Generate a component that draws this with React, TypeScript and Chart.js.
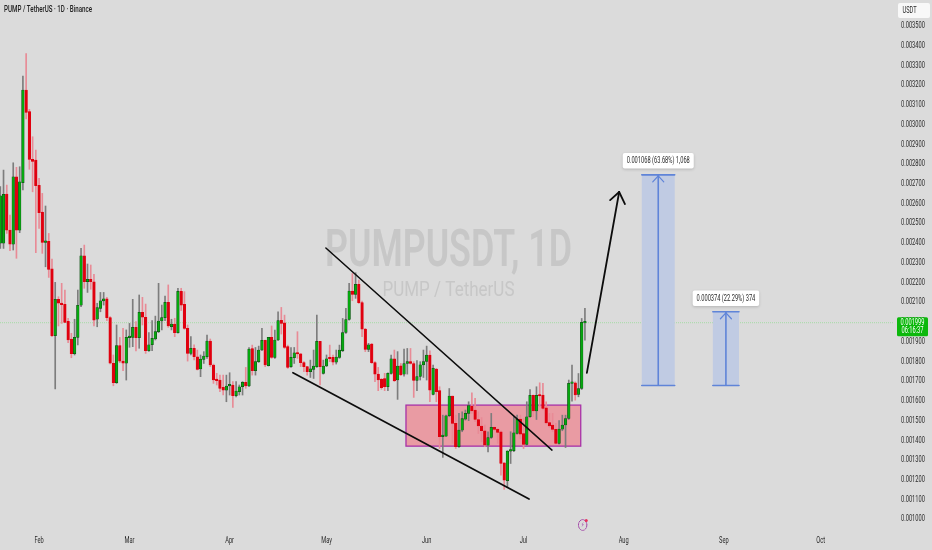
import React, { useEffect, useRef } from "react";
import { Chart, registerables } from "chart.js";

Chart.register(...registerables);

const opens = [2399,2399,2649,2466,2395,2736,2466,2706,3176,3066,2824,2821,2693,2557,2404,2409,2269,1931,2115,2096,2090,2003,1914,1840,1922,2085,2335,2204,2216,2204,2014,2069,2107,2118,2022,1791,1693,1880,1802,1791,1921,1922,1973,1921,2049,2024,1855,1885,1914,1951,2005,2022,2100,1976,1990,1946,2155,2090,1968,1841,1867,1824,1762,1811,1824,1904,1782,1706,1706,1669,1655,1676,1681,1627,1647,1672,1694,1676,1866,1753,1799,1858,1907,1779,1922,1821,1909,2008,1996,1875,1774,1819,1844,1839,1795,1774,1748,1760,1774,1902,1740,1777,1819,1821,1797,1821,1855,1947,2013,2157,2140,2191,2098,1964,1861,1888,1794,1736,1709,1714,1672,1740,1814,1706,1778,1736,1790,1799,1790,1704,1724,1783,1800,1832,1633,1761,1652,1419,1422,1525,1625,1486,1368,1452,1508,1537,1574,1554,1506,1473,1449,1376,1415,1466,1456,1444,1287,1196,1346,1348,1435,1508,1435,1380,1520,1628,1550,1630,1630,1565,1491,1478,1456,1385,1457,1478,1511,1689,1692,1633,1663,1996];
const highs = [2686,2770,2694,2542,2807,2784,2787,3247,3361,3078,2939,2872,2728,2652,2588,2449,2319,2201,2128,2196,2162,2019,1943,2014,2162,2373,2390,2294,2289,2242,2095,2150,2150,2125,2027,1833,1985,1922,1968,1960,1993,2115,2002,2137,2125,2091,1946,2007,2030,2196,2086,2132,2188,2014,2019,2171,2171,2154,1985,1926,1884,1858,1833,1850,1934,1914,1787,1740,1731,1731,1731,1743,1698,1698,1681,1698,1770,1871,1883,1871,1878,1968,1909,1922,1980,1959,2052,2074,2035,1883,1871,1871,1951,1841,1799,1774,1807,1858,2035,1902,1807,1833,1883,1833,1858,1883,2018,2069,2196,2246,2250,2213,2106,1968,1892,1892,1799,1770,1714,1740,1743,1833,1858,1850,1790,1863,1866,1866,1799,1804,1799,1858,1878,1854,1782,1765,1672,1528,1528,1663,1625,1528,1537,1545,1554,1596,1641,1613,1545,1516,1478,1444,1537,1469,1461,1449,1287,1348,1444,1520,1528,1528,1511,1596,1658,1630,1672,1692,1689,1596,1537,1537,1486,1500,1528,1528,1706,1782,1697,1739,2018,2069];
const lows = [2373,2373,2449,2362,2365,2323,2453,2669,3029,2774,2660,2351,2475,2348,2280,2226,1926,1661,1980,1993,1997,1895,1819,1833,1884,2078,2171,2150,2166,1980,1976,2052,2086,2007,1788,1677,1689,1794,1753,1706,1872,1875,1853,1867,1985,1841,1851,1855,1909,1946,1960,2007,1973,1960,1926,1943,2058,1963,1802,1833,1808,1757,1723,1790,1816,1774,1689,1681,1647,1630,1596,1630,1567,1621,1630,1630,1664,1672,1731,1731,1795,1855,1774,1777,1816,1816,1905,1939,1866,1765,1770,1790,1816,1774,1748,1731,1719,1714,1770,1681,1736,1774,1799,1782,1787,1816,1850,1942,2010,2108,2120,2094,1926,1850,1850,1790,1698,1652,1659,1652,1652,1736,1698,1608,1728,1726,1736,1787,1618,1652,1706,1719,1706,1596,1630,1596,1359,1314,1419,1520,1385,1359,1364,1444,1503,1500,1537,1495,1435,1393,1368,1342,1410,1449,1385,1224,1152,1162,1283,1343,1432,1410,1359,1376,1516,1520,1506,1570,1554,1483,1466,1444,1381,1381,1449,1364,1506,1599,1604,1621,1658,1908];
const closes = [2640,2647,2466,2395,2736,2466,2711,3176,3062,2824,2814,2691,2554,2404,2411,2267,1931,2115,2095,2088,1998,1909,1840,1922,2085,2335,2204,2216,2204,2010,2073,2107,2117,2022,1791,1693,1880,1802,1791,1922,1926,1973,1921,2049,2024,1855,1885,1917,1951,2005,2022,2100,1980,1990,1946,2155,2086,1968,1841,1867,1824,1760,1812,1828,1904,1782,1706,1703,1664,1655,1676,1684,1627,1650,1672,1694,1676,1863,1753,1799,1858,1907,1782,1922,1821,1909,2007,1993,1871,1770,1821,1844,1838,1794,1774,1748,1763,1777,1902,1774,1777,1814,1814,1797,1822,1858,1947,2013,2157,2140,2191,2098,1964,1861,1885,1794,1736,1706,1667,1672,1740,1814,1703,1777,1733,1790,1800,1790,1704,1724,1783,1800,1832,1655,1765,1647,1419,1427,1525,1625,1486,1368,1452,1511,1537,1577,1550,1506,1473,1449,1376,1415,1466,1456,1440,1283,1199,1346,1351,1439,1508,1432,1380,1520,1628,1550,1628,1625,1562,1489,1473,1456,1385,1457,1478,1511,1689,1692,1630,1663,1998,1999];

const monthTicks = [12, 40, 71, 101, 132, 162, 193, 224, 254];
const monthLabels = ["Feb", "Mar", "Apr", "May", "Jun", "Jul", "Aug", "Sep", "Oct"];
const topLabelledPrice = 0.0035;
const lastPrice = 1999;
const countdown = "06:16:37";
const upperWedge = [[100.8, 2375], [170.8, 1351]];
const lowerWedge = [[90.6, 1743], [163.7, 1103]];
const moveArrow = [[181.6, 1742], [191.6, 2659]];
const arrowWings = [[188.8, 2618], [193.4, 2598]];
const zoneDays = [125.6, 179.7];
const zonePrices = [1371, 1579];
const targetBase = 1678;
const targets = [
  { from: 198.6, to: 208.8, top: 2746, label: "0.001068 (63.68%) 1,068", labelPrice: 2816 },
  { from: 220.6, to: 228.7, top: 2052, label: "0.000374 (22.29%) 374", labelPrice: 2119 },
];

const GREEN = "#06a80f";
const RED = "#e0000f";
const U = 1e-6;
const SQUEEZE = 0.67;
const family = "Roboto, sans-serif";

function roundBox(ctx: CanvasRenderingContext2D, x: number, y: number, w: number, h: number, r: number, fill: string) {
  ctx.beginPath();
  ctx.roundRect(x, y, w, h, r);
  ctx.fillStyle = fill;
  ctx.fill();
}

const behind = {
  id: "behind",
  beforeInit(chart: any) {
    // the reference's lettering is horizontally compressed
    const ctx = chart.ctx;
    const orig = ctx.fillText.bind(ctx);
    ctx.fillText = (t: string, x: number, y: number, m?: number) => {
      orig(t, x, y, m === undefined ? ctx.measureText(t).width * SQUEEZE : m);
    };
  },
  beforeDatasetsDraw(chart: any) {
    const { ctx, scales } = chart;
    const X = (v: number) => scales.x.getPixelForValue(v);
    const Y = (v: number) => scales.y.getPixelForValue(v * U);
    ctx.save();
    ctx.textAlign = "center";
    ctx.textBaseline = "middle";
    ctx.fillStyle = "#c7c7c7";
    ctx.font = "600 52px Roboto";
    ctx.fillText("PUMPUSDT, 1D", 448.5, 253, 247);
    ctx.font = "400 21px Roboto";
    ctx.fillText("PUMP / TetherUS", 448.5, 291, 132);

    ctx.strokeStyle = "#a4dca4";
    ctx.lineWidth = 1;
    ctx.setLineDash([1, 1]);
    ctx.beginPath();
    ctx.moveTo(0, Y(lastPrice) + 0.5);
    ctx.lineTo(scales.x.right, Y(lastPrice) + 0.5);
    ctx.stroke();
    ctx.setLineDash([]);

    const zx = X(zoneDays[0]);
    const zw = X(zoneDays[1]) - zx;
    const zy = Y(zonePrices[1]);
    const zh = Y(zonePrices[0]) - zy;
    ctx.fillStyle = "#e99ba3";
    ctx.fillRect(zx, zy, zw, zh);
    ctx.strokeStyle = "#a832a8";
    ctx.lineWidth = 1.3;
    ctx.strokeRect(zx, zy, zw, zh);
    ctx.restore();
  },
  afterDatasetsDraw(chart: any) {
    const { ctx, scales } = chart;
    const X = (v: number) => scales.x.getPixelForValue(v);
    const Y = (v: number) => scales.y.getPixelForValue(v * U);
    const seg = (a: number[], b: number[]) => {
      ctx.beginPath();
      ctx.moveTo(X(a[0]), Y(a[1]));
      ctx.lineTo(X(b[0]), Y(b[1]));
      ctx.stroke();
    };
    ctx.save();
    ctx.lineCap = "round";

    ctx.strokeStyle = "#0c0c0c";
    ctx.lineWidth = 1.5;
    seg(upperWedge[0], upperWedge[1]);
    ctx.lineWidth = 1.7;
    seg(lowerWedge[0], lowerWedge[1]);
    ctx.lineWidth = 1.8;
    seg(moveArrow[0], moveArrow[1]);
    seg(arrowWings[0], moveArrow[1]);
    seg(arrowWings[1], moveArrow[1]);

    targets.forEach((t) => {
      const x0 = X(t.from);
      const x1 = X(t.to);
      const cx = (x0 + x1) / 2;
      const yT = Y(t.top);
      const yB = Y(targetBase);
      ctx.fillStyle = "#c0cbe3";
      ctx.fillRect(x0, yT, x1 - x0, yB - yT);
      ctx.strokeStyle = "#5f84d8";
      ctx.lineWidth = 1.6;
      ctx.beginPath();
      ctx.moveTo(x0, yT);
      ctx.lineTo(x1, yT);
      ctx.moveTo(x0, yB);
      ctx.lineTo(x1, yB);
      ctx.moveTo(cx, yB);
      ctx.lineTo(cx, yT);
      ctx.stroke();
      ctx.lineWidth = 1.2;
      ctx.beginPath();
      ctx.moveTo(cx - 5.5, yT + 7);
      ctx.lineTo(cx, yT + 1);
      ctx.lineTo(cx + 5.5, yT + 7);
      ctx.stroke();

      const ly = Y(t.labelPrice);
      const w = t.label.length > 22 ? 71 : 66.5;
      ctx.save();
      ctx.shadowColor = "rgba(0,0,0,0.18)";
      ctx.shadowBlur = 3;
      ctx.shadowOffsetY = 1;
      roundBox(ctx, cx - w / 2, ly - 8, w, 15.5, 2, "#ffffff");
      ctx.restore();
      ctx.fillStyle = "#2a2a2a";
      ctx.font = `8.5px ${family}`;
      ctx.textAlign = "center";
      ctx.textBaseline = "middle";
      ctx.fillText(t.label, cx, ly);
    });

    // title and USDT badge
    ctx.fillStyle = "#222222";
    ctx.font = "500 9.5px Roboto";
    ctx.textAlign = "left";
    ctx.textBaseline = "middle";
    ctx.fillText("PUMP / TetherUS · 1D · Binance", 4, 10, 88);
    roundBox(ctx, 898, 3, 32, 15, 2, "#f8f8f8");
    ctx.fillStyle = "#2a2a2a";
    ctx.font = `8.5px ${family}`;
    ctx.textAlign = "center";
    ctx.fillText("USDT", 909.5, 10.5);

    // last price tag
    const py = Y(lastPrice);
    roundBox(ctx, 897, py - 5, 31, 19, 1.5, "#0cb80c");
    ctx.fillStyle = "#ffffff";
    ctx.fillText((lastPrice * U).toFixed(6), 912.5, py + 0.5);
    ctx.fillText(countdown, 912.5, py + 9);

    // bolt badge
    const bx = X(180.3);
    const by = 525;
    ctx.strokeStyle = "#a34aa8";
    ctx.lineWidth = 1;
    ctx.setLineDash([2, 1]);
    ctx.beginPath();
    ctx.ellipse(bx, by, 4.2, 5.4, 0, 0, Math.PI * 2);
    ctx.stroke();
    ctx.setLineDash([]);
    ctx.fillStyle = "#a34aa8";
    ctx.font = "7px 'DejaVu Sans'";
    ctx.fillText("⚡", bx, by + 0.5);
    ctx.fillStyle = "#e8305a";
    ctx.beginPath();
    ctx.arc(bx + 3.6, by - 4.6, 1.5, 0, Math.PI * 2);
    ctx.fill();
    ctx.restore();
  },
};

export default function App() {
  const ref = useRef<HTMLCanvasElement>(null);
  useEffect(() => {
    document.body.style.margin = "0";
    document.body.style.background = "#dbdbdb";
    const days = opens.map((_, i) => i);
    const up = days.map((i) => closes[i] >= opens[i]);
    const chart = new Chart(ref.current!, {
      type: "bar",
      data: {
        datasets: [
          {
            label: "body",
            order: 1,
            data: days.map((i) => ({ x: i, y: [opens[i] * U, closes[i] * U] })),
            backgroundColor: up.map((u) => (u ? GREEN : RED)),
            borderColor: up.map((u) => (u ? "#0d3d12" : RED)),
            borderWidth: 0.5,
            borderSkipped: false,
            barThickness: 2.6,
            minBarLength: 1.5,
            grouped: false,
          } as any,
          {
            label: "wick",
            order: 2,
            data: days.map((i) => ({ x: i, y: [lows[i] * U, highs[i] * U] })),
            backgroundColor: up.map((u) => (u ? "#7d7d7d" : "#e88b96")),
            borderWidth: 0,
            barThickness: 1,
            grouped: false,
          } as any,
        ],
      },
      options: {
        responsive: false,
        animation: false,
        devicePixelRatio: 1,
        layout: { padding: 0 },
        plugins: { legend: { display: false }, tooltip: { enabled: false } },
        scales: {
          x: {
            type: "linear",
            offset: false,
            min: -0.093,
            max: 276.38,
            grid: { display: false, drawTicks: false, offset: false },
            border: { display: false },
            afterFit(s: any) {
              s.height = 20;
              s.paddingLeft = 0;
              s.paddingRight = 0;
            },
            afterBuildTicks(s: any) {
              s.ticks = monthTicks.map((value) => ({ value }));
            },
            ticks: {
              autoSkip: false,
              maxRotation: 0,
              padding: 6,
              color: "#2a2a2a",
              font: { family, size: 8.5 },
              callback: (v: any) => monthLabels[monthTicks.indexOf(v)] ?? "",
            },
          },
          y: {
            position: "right",
            min: 946e-6,
            max: 3632e-6,
            grid: { display: false, drawTicks: false },
            border: { display: false },
            afterFit(s: any) {
              s.width = 39;
              s.paddingTop = 0;
              s.paddingBottom = 0;
            },
            ticks: {
              stepSize: 0.0001,
              includeBounds: false,
              autoSkip: false,
              padding: 8,
              color: "#2a2a2a",
              font: { family, size: 8.5 },
              callback: (v: any) => (Number(v) > topLabelledPrice + 1e-6 ? "" : Number(v).toFixed(6)),
            },
          },
        },
      },
      plugins: [behind],
    });
    return () => chart.destroy();
  }, []);
  return (
    <div style={{ width: 932, height: 550, background: "#dbdbdb" }}>
      <canvas ref={ref} width={932} height={550} style={{ display: "block" }} />
    </div>
  );
}
